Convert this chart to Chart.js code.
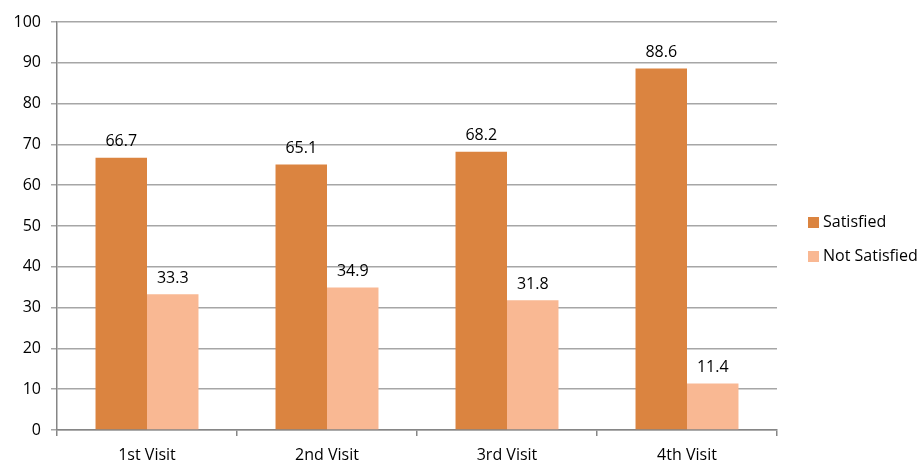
<!DOCTYPE html>
<html><head><meta charset="utf-8">
<script src="https://cdn.jsdelivr.net/npm/chart.js@4.4.0/dist/chart.umd.min.js"></script>
<style>html,body{margin:0;padding:0;background:#fff}#wrap{width:922px;height:463px}</style>
</head><body><div id="wrap"><canvas id="c" width="922" height="463"></canvas></div>
<script>
const categories = ["1st Visit", "2nd Visit", "3rd Visit", "4th Visit"];
const satisfied = [66.7, 65.1, 68.2, 88.6];
const notSatisfied = [33.3, 34.9, 31.8, 11.4];
const seriesNames = ["Satisfied", "Not Satisfied"];
const seriesColors = ["#DB8440", "#F9B893"];
const yTicks = [0, 10, 20, 30, 40, 50, 60, 70, 80, 90, 100];

const FONT = "'Open Sans', 'Liberation Sans', sans-serif";

const labelPlugin = {
  id: 'valueLabels',
  afterDatasetsDraw(chart) {
    const ctx = chart.ctx;
    ctx.save();
    ctx.font = "16px " + FONT;
    ctx.fillStyle = "#000";
    ctx.textAlign = "center";
    ctx.textBaseline = "bottom";
    chart.data.datasets.forEach((ds, i) => {
      chart.getDatasetMeta(i).data.forEach((bar, j) => {
        ctx.fillText(ds.data[j].toFixed(1), bar.x, bar.y - 8);
      });
    });
    ctx.restore();
  }
};

const legendPlugin = {
  id: 'customLegend',
  afterDraw(chart) {
    const ctx = chart.ctx;
    const area = chart.chartArea;
    ctx.save();
    ctx.font = "16px " + FONT;
    ctx.textAlign = "left";
    ctx.textBaseline = "middle";
    const x0 = area.right + 31;
    const yc = 239.5;
    const gap = 34;
    chart.data.datasets.forEach((ds, i) => {
      const y = yc + (i - 0.5) * gap;
      ctx.fillStyle = ds.backgroundColor;
      ctx.fillRect(x0, y - 5.5, 11, 11);
      ctx.fillStyle = "#000";
      ctx.fillText(ds.label, x0 + 15, y);
    });
    ctx.restore();
  }
};

new Chart(document.getElementById('c'), {
  type: 'bar',
  data: {
    labels: categories,
    datasets: [
      { label: seriesNames[0], data: satisfied, backgroundColor: seriesColors[0], categoryPercentage: 0.572, barPercentage: 1.0 },
      { label: seriesNames[1], data: notSatisfied, backgroundColor: seriesColors[1], categoryPercentage: 0.572, barPercentage: 1.0 }
    ]
  },
  options: {
    responsive: false,
    animation: false,
    layout: { padding: { top: 22, right: 145, left: 0, bottom: 0 } },
    plugins: {
      legend: { display: false },
      tooltip: { enabled: false }
    },
    scales: {
      x: {
        afterFit(axis) { axis.height = 33; },
        grid: { display: true, offset: true, drawOnChartArea: false, drawTicks: true, tickLength: 6, color: '#868686', lineWidth: 1.5 },
        border: { color: '#868686', width: 1.5 },
        ticks: { color: '#000', font: { family: FONT, size: 16 }, padding: 10 }
      },
      y: {
        min: 0, max: 100,
        afterFit(axis) { axis.width = 57; },
        afterBuildTicks(axis) { axis.ticks = yTicks.map(v => ({ value: v })); },
        grid: { color: '#A6A6A6', lineWidth: 1.5, drawTicks: true, tickLength: 6 },
        border: { color: '#868686', width: 1.5 },
        ticks: { color: '#000', font: { family: FONT, size: 16 }, padding: 10 }
      }
    }
  },
  plugins: [labelPlugin, legendPlugin]
});
</script></body></html>
